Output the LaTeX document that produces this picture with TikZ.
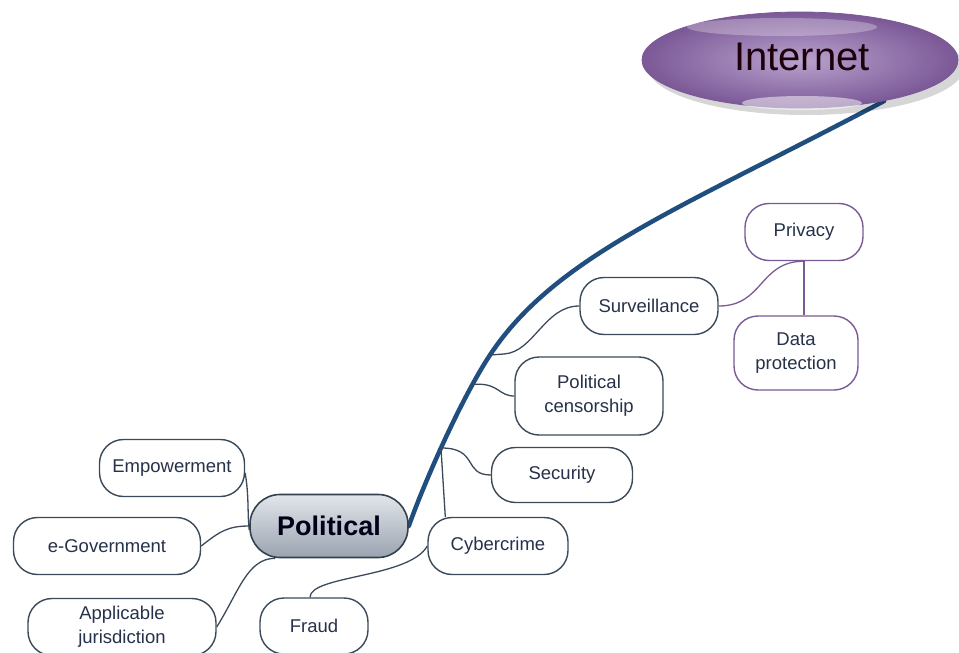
\documentclass[tikz,border=0pt]{standalone}
\usepackage{fontspec}
\setmainfont{Liberation Sans}
\usetikzlibrary{shapes.geometric,backgrounds,calc}
\definecolor{trunkblue}{HTML}{1F4E7F}
\definecolor{linegray}{HTML}{3B4A5A}
\definecolor{txt}{HTML}{26324A}
\definecolor{purp}{HTML}{7A5A96}
\definecolor{purpdark}{HTML}{7B5896}
\definecolor{purplight}{HTML}{B9A3CE}
\definecolor{poltop}{HTML}{E2E6EB}
\definecolor{polbot}{HTML}{9AA3AF}
\definecolor{polborder}{HTML}{34404D}
\begin{document}
\begin{tikzpicture}[x=1pt,y=-1pt,
  topic/.style={draw=linegray, line width=1.4pt, fill=white, rectangle, rounded corners=24pt,
    inner sep=0pt, align=center, text=txt, font=\fontsize{18.5}{24}\selectfont},
  ptopic/.style={topic, draw=purp},
  conn/.style={draw=linegray, line width=1.3pt},
  pconn/.style={draw=purp, line width=1.3pt},
  trunk/.style={draw=trunkblue, line width=4.5pt, line cap=round}]
\useasboundingbox (0,0) rectangle (959,653);

% Internet
\fill[black, opacity=0.16] (806,67) ellipse [x radius=158pt, y radius=48pt];
\node[ellipse, minimum width=316pt, minimum height=96pt, inner sep=0pt,
  inner color=purplight, outer color=purpdark, draw=purpdark, line width=0.8pt] (inet) at (800,60) {};
\fill[white, opacity=0.28] (782,27) ellipse [x radius=95pt, y radius=9pt];
\fill[white, opacity=0.5] (802,103) ellipse [x radius=60pt, y radius=7pt];
\node[font=\fontsize{40}{42}\selectfont, text=black!85!purple] (inettxt) at (802,57) {Internet};

% Political
\node[rectangle, rounded corners=30pt, minimum width=158pt, minimum height=63pt, inner sep=0pt,
  top color=poltop, bottom color=polbot, draw=polborder, line width=1.6pt,
  font=\fontsize{27}{30}\selectfont\bfseries, text=black!90!blue] (pol) at (329,526) {Political};

% Topics
\node[topic, minimum width=138pt, minimum height=57pt] (surv) at (649,306) {Surveillance};
\node[ptopic, minimum width=118pt, minimum height=57pt] (priv) at (804,232) {Privacy};
\node[ptopic, minimum width=124pt, minimum height=74pt] (dp) at (796,353) {Data\\protection};
\node[topic, minimum width=148pt, minimum height=78pt] (pcen) at (589,396) {Political\\censorship};
\node[topic, minimum width=141pt, minimum height=55pt] (sec) at (562,475) {Security};
\node[topic, minimum width=140pt, minimum height=57pt] (cyb) at (498,546) {Cybercrime};
\node[topic, minimum width=108pt, minimum height=56pt] (fraud) at (314,626) {Fraud};
\node[topic, minimum width=145pt, minimum height=57pt] (emp) at (172,468) {Empowerment};
\node[topic, minimum width=187pt, minimum height=57pt] (egov) at (107,546) {e-Government};
\node[topic, minimum width=188pt, minimum height=57pt] (appl) at (122,627) {Applicable\\jurisdiction};

\coordinate (t1) at (490,355);

\begin{scope}[on background layer]
\draw[trunk] (inet.-26) .. controls (684,207) and (556,255) .. (t1)
  .. controls (462.5,396.5) and (425.5,479) .. (pol.east)
  coordinate[pos=0.2] (t2) coordinate[pos=0.55] (t3);
\draw[conn] (t1) -- ++(14,-1) .. controls +(30,-2) and +(-35,0) .. (surv.west);
\draw[conn] (t2) -- ++(6,0) .. controls +(20,0) and +(-15,0) .. (pcen.west);
\draw[conn] (t3) .. controls +(38,0) and +(-28,0) .. (sec.west);
\draw[conn] (t3) -- ([xshift=18pt]cyb.north west);
\draw[conn] (cyb.west) .. controls +(-18,32) and +(0,-22) .. ([xshift=-4pt]fraud.north);
\draw[pconn] (surv.east) .. controls +(45,0) and +(-45,0) .. (priv.south);
\draw[pconn] (priv.south) -- (priv.south |- dp.north);
\draw[conn] ([yshift=-5pt]emp.east) .. controls +(4,25) and +(-2,-20) .. ([yshift=-4pt]pol.west);
\draw[conn] (egov.east) .. controls +(18,-14) and +(-22,0) .. (pol.west);
\draw[conn] (appl.east) .. controls +(22,-35) and +(-28,0) .. ([xshift=26pt]pol.south west);
\end{scope}
\end{tikzpicture}
\end{document}
